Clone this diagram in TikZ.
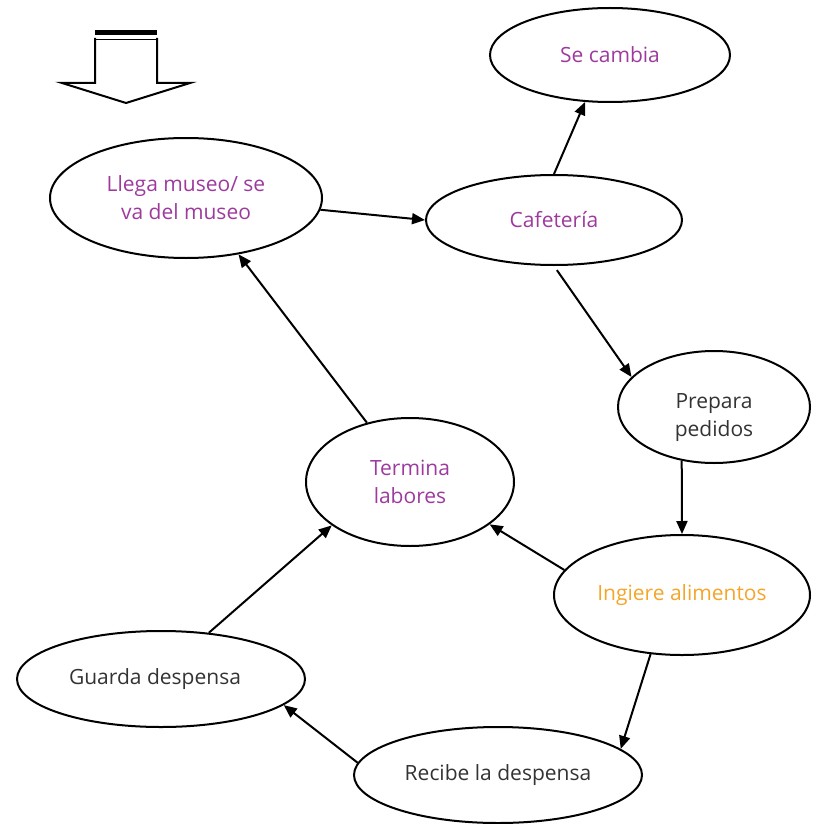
\documentclass[tikz,border=0pt]{standalone}
\usepackage{fontspec}
\setmainfont{Open Sans}
\usetikzlibrary{shapes.geometric,arrows.meta}
\definecolor{purp}{HTML}{9E3A9E}
\definecolor{orng}{HTML}{F5A52A}
\definecolor{txtg}{HTML}{333333}
\tikzset{
  oval/.style={ellipse,draw=black,line width=2pt,inner sep=0pt,align=center,font=\fontsize{21}{28}\selectfont},
  conn/.style={line width=2pt,-{Triangle[length=13pt,width=11pt]}}
}
\begin{document}
\begin{tikzpicture}[x=1pt,y=-1pt]
\useasboundingbox (0,0) rectangle (819,824);
% block arrow
\fill (95,30) rectangle (157,35);
\draw[line width=1.6pt] (95,39.5) -- (157,39.5);
\draw[line width=2pt,line join=miter] (95,38) -- (95,83) -- (62,83) -- (126,103) -- (190,83) -- (157,83) -- (157,38);
% nodes
\node[oval,minimum width=240pt,minimum height=94pt,text=purp] (se) at (610,55) {Se cambia};
\node[oval,minimum width=272pt,minimum height=120pt,text=purp] (llega) at (186,198) {Llega museo/ se\\va del museo};
\node[oval,minimum width=256pt,minimum height=90pt,text=purp] (caf) at (554,220) {Cafetería};
\node[oval,minimum width=192pt,minimum height=112pt,text=txtg] (prep) at (714,407) {\rule{0pt}{36pt}Prepara\\pedidos};
\node[oval,minimum width=208pt,minimum height=128pt,text=purp] (term) at (410,482) {Termina\\labores};
\node[oval,minimum width=256pt,minimum height=120pt,text=orng] (ing) at (682,595) {Ingiere alimentos};
\node[oval,minimum width=288pt,minimum height=96pt,text=txtg] (guar) at (161,679) {Guarda despensa\hspace*{12pt}};
\node[oval,minimum width=288pt,minimum height=96pt,text=txtg] (rec) at (498,775) {Recibe la despensa};
% connectors
\draw[conn] (caf.90) -- (se.-118);
\draw[conn] (llega.-5) -- (caf.180);
\draw[conn,shorten <=5pt] (caf.-90) -- (prep.160);
\draw[conn] (prep.-121) -- (ing.90);
\draw[conn] (ing.168) -- (term.-28);
\draw[conn] (ing.-118) -- (rec.12);
\draw[conn] (rec.175) -- (guar.-12);
\draw[conn] (guar.44) -- (term.-151);
\draw[conn] (term.126) -- (llega.-47);
\end{tikzpicture}
\end{document}
